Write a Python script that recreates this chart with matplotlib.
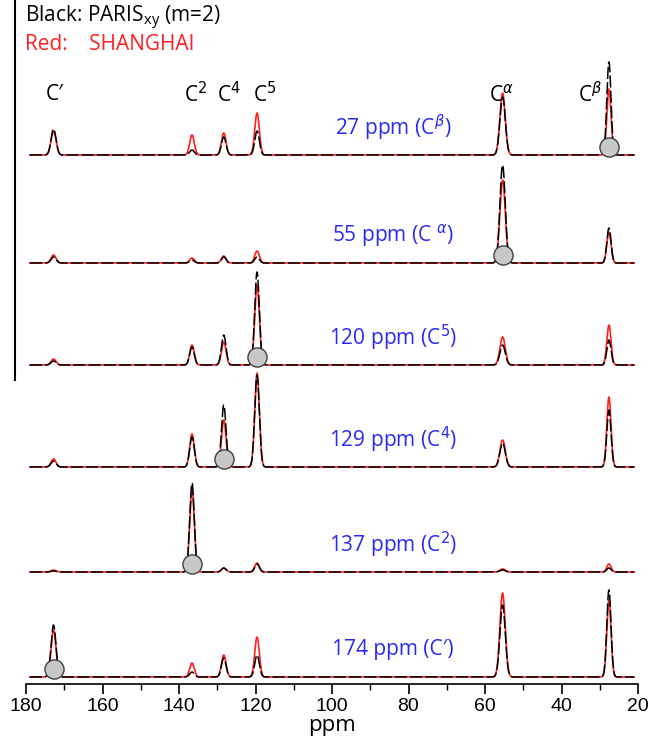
import numpy as np
import matplotlib.pyplot as plt

# peak positions (ppm) and names
peak_ppm = [172.8, 136.6, 128.3, 119.6, 55.4, 27.6]
peak_names = ["C\u2032", "C$^2$", "C$^4$", "C$^5$", "C$^\\alpha$", "C$^\\beta$"]

# selected peak of each trace, label, and the peak index it marks
sel_labels = ["27 ppm (C$^\\beta$)", "55 ppm (C $^\\alpha$)", "120 ppm (C$^5$)",
              "129 ppm (C$^4$)", "137 ppm (C$^2$)", "174 ppm (C\u2032)"]
sel_peak = [5, 4, 3, 2, 1, 0]

# peak heights (arbitrary units), black = PARIS, red = SHANGHAI
black_h = [
    [26, 5, 18, 24, 58, 93],
    [6, 3, 6, 6, 98, 35],
    [4, 18, 30, 93, 20, 25],
    [6, 30, 62, 92, 24, 57],
    [1, 89, 4, 8, 2, 4],
    [52, 5, 19, 22, 72, 87],
]
red_h = [
    [24, 20, 22, 42, 62, 66],
    [8, 5, 7, 12, 83, 31],
    [6, 20, 23, 80, 28, 40],
    [8, 33, 47, 94, 27, 70],
    [2, 82, 4, 9, 3, 8],
    [47, 14, 22, 40, 84, 77],
]
# vertical offset of each trace
offsets = [529, 421, 319, 217, 112, 7]
widths = [0.65, 0.6, 0.6, 0.6, 0.7, 0.55]


def spectrum(x, heights):
    y = np.zeros_like(x)
    for p, h, w in zip(peak_ppm, heights, widths):
        y += h * np.exp(-0.5 * ((x - p) / w) ** 2)
    return y


fig = plt.figure(figsize=(6.54, 7.46), dpi=100)
ax = fig.add_axes([26 / 654, 62 / 746, 612 / 654, 684 / 746])
x = np.linspace(179, 21, 4000)

for i in range(6):
    off = offsets[i]
    ax.plot(x, spectrum(x, red_h[i]) + off, color="#ff2020", lw=1.2, zorder=2)
    ax.plot(x, spectrum(x, black_h[i]) + off, color="black", lw=1.1,
            dashes=(8, 2), zorder=3)
    ax.scatter([peak_ppm[sel_peak[i]]], [off + 8], s=190, color="#c8c8c8",
               edgecolors="#404040", linewidths=1, zorder=4)
    ax.text(84, off + 27, sel_labels[i], color="#2a2af0", fontsize=15,
            ha="center", va="center", family="Open Sans")

label_x = [172.4, 135.6, 127.0, 117.6, 55.7, 32.6]
for lx, name in zip(label_x, peak_names):
    ax.text(lx, 589, name, fontsize=15, ha="center", va="center",
            family="Open Sans")

ax.set_xlim(180, 20)
ax.set_ylim(0, 684)
ax.set_xticks(np.arange(180, 19, -20))
ax.set_xticks(np.arange(170, 20, -20), minor=True)
ax.tick_params(axis="x", which="major", length=7, width=1.2, labelsize=14, pad=3)
ax.tick_params(axis="x", which="minor", length=4, width=1)
for lbl in ax.get_xticklabels():
    lbl.set_family("Liberation Sans")
ax.set_yticks([])
for s in ["left", "right", "top"]:
    ax.spines[s].set_visible(False)
ax.spines["bottom"].set_linewidth(1.2)
ax.set_xlabel("ppm", fontsize=16, family="Open Sans", labelpad=0)

fig.add_artist(plt.Line2D([15 / 654, 15 / 654], [1, 1 - 380 / 746],
                          color="black", lw=1.5))
fig.text(25 / 654, 1 - 18 / 746, "Black: PARIS$_{\\mathregular{xy}}$ (m=2)",
         fontsize=15, va="center", family="Open Sans")
fig.text(25 / 654, 1 - 45 / 746, "Red:    SHANGHAI", color="#ff2020",
         fontsize=15, va="center", family="Open Sans")

fig.savefig("out.png", dpi=100)
